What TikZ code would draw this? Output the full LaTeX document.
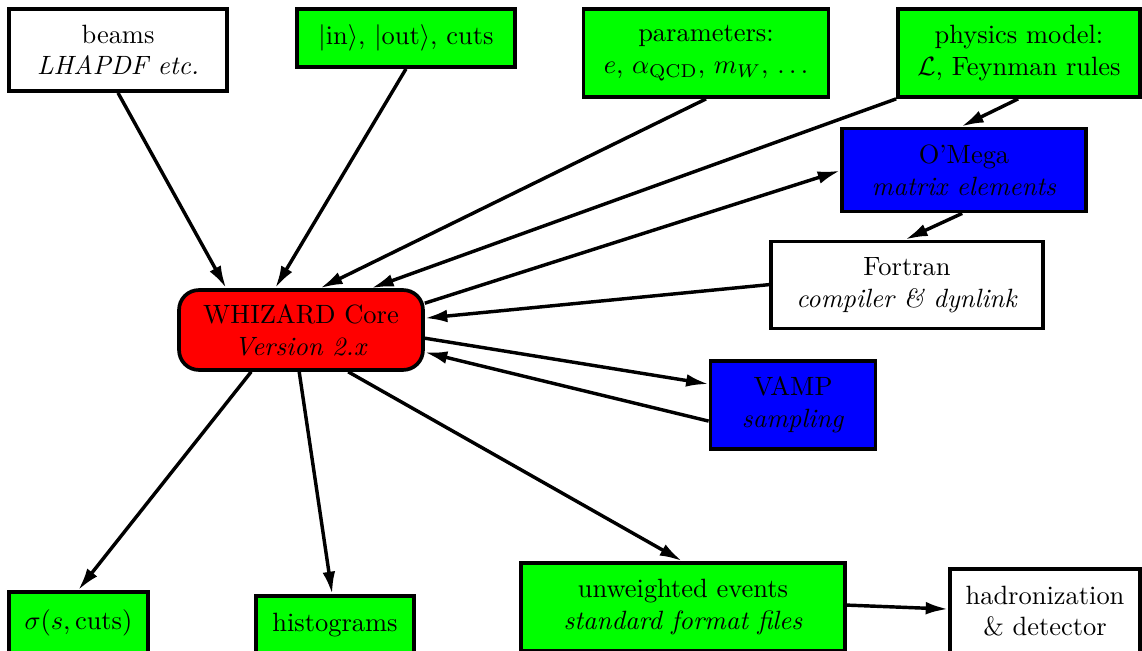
\documentclass[tikz,border=0pt]{standalone}
\usetikzlibrary{arrows.meta,calc}
\begin{document}
\begin{tikzpicture}[x=0.378pt,y=-0.378pt,
  box/.style={draw,line width=1.4pt,align=center,inner sep=0pt},
  wbox/.style={box,fill=white},
  gbox/.style={box,fill=green},
  bbox/.style={box,fill=blue},
  conn/.style={line width=1.3pt,-{Latex[length=8.5pt,width=4.8pt]}}]
\useasboundingbox (0,0) rectangle (1142,651);
\node[wbox,minimum width=82.4pt,minimum height=31pt] (beams) at (118,50) {beams\\\textit{LHAPDF etc.}};
\node[gbox,minimum width=82.4pt,minimum height=21.9pt] (inout) at (406,38) {$|\mathrm{in}\rangle$, $|\mathrm{out}\rangle$, cuts};
\node[gbox,minimum width=92.6pt,minimum height=33.3pt] (params) at (706,53) {parameters:\\$e$, $\alpha_{\mathrm{QCD}}$, $m_W$, $\ldots$};
\node[gbox,minimum width=91.5pt,minimum height=33.3pt] (phys) at (1019,53) {physics model:\\$\mathcal{L}$, Feynman rules};
\node[bbox,minimum width=92.2pt,minimum height=31.4pt] (omega) at (964,170) {O\textquoteright Mega\\\textit{matrix elements}};
\node[wbox,minimum width=102.8pt,minimum height=32.9pt] (fortran) at (907,285) {Fortran\\\textit{compiler \& dynlink}};
\node[box,fill=red,rounded corners=7.5pt,minimum width=92.2pt,minimum height=30.2pt] (core) at (301,330) {WHIZARD Core\\\textit{Version 2.x}};
\node[bbox,minimum width=62.4pt,minimum height=33.3pt] (vamp) at (793,405) {VAMP\\\textit{sampling}};
\node[gbox,minimum width=52.5pt,minimum height=23.4pt] (sigma) at (78.5,623) {$\sigma(s,\mathrm{cuts})$};
\node[gbox,minimum width=59.7pt,minimum height=21.9pt] (hist) at (335,625) {histograms};
\node[gbox,minimum width=122.5pt,minimum height=33.3pt] (unw) at (683,607) {unweighted events\\\textit{standard format files}};
\node[wbox,minimum width=71.8pt,minimum height=31.8pt] (hadr) at (1045,611) {hadronization\\\& detector};
% connectors
\draw[conn] (beams.south) -- ($(core.north west)+(49,0)$);
\draw[conn] (inout.south) -- ($(core.north west)+(98,0)$);
\draw[conn] (params.south) -- ($(core.north west)+(143,0)$);
\draw[conn] (phys.south west) -- ($(core.north west)+(194,0)$);
\draw[conn] ($(phys.south west)+(122,0)$) -- ($(omega.north west)+(121,0)$);
\draw[conn] ($(core.north east)+(0,15)$) -- ($(omega.north west)+(0,44)$);
\draw[conn] ($(omega.south west)+(122,0)$) -- ($(fortran.north west)+(136,0)$);
\draw[conn] ($(fortran.north west)+(0,45)$) -- ($(core.north east)+(0,30)$);
\draw[conn] ($(core.north east)+(0,50)$) -- ($(vamp.north west)+(0,25)$);
\draw[conn] ($(vamp.north west)+(0,62)$) -- ($(core.north east)+(0,64)$);
\draw[conn] ($(core.south west)+(74,0)$) -- ($(sigma.north west)+(71,0)$);
\draw[conn] ($(core.south west)+(122,0)$) -- ($(hist.north west)+(78,0)$);
\draw[conn] ($(core.south west)+(171,0)$) -- ($(unw.north west)+(163,0)$);
\draw[conn] ($(unw.north east)+(0,44)$) -- ($(hadr.north west)+(0,42)$);
\end{tikzpicture}
\end{document}
